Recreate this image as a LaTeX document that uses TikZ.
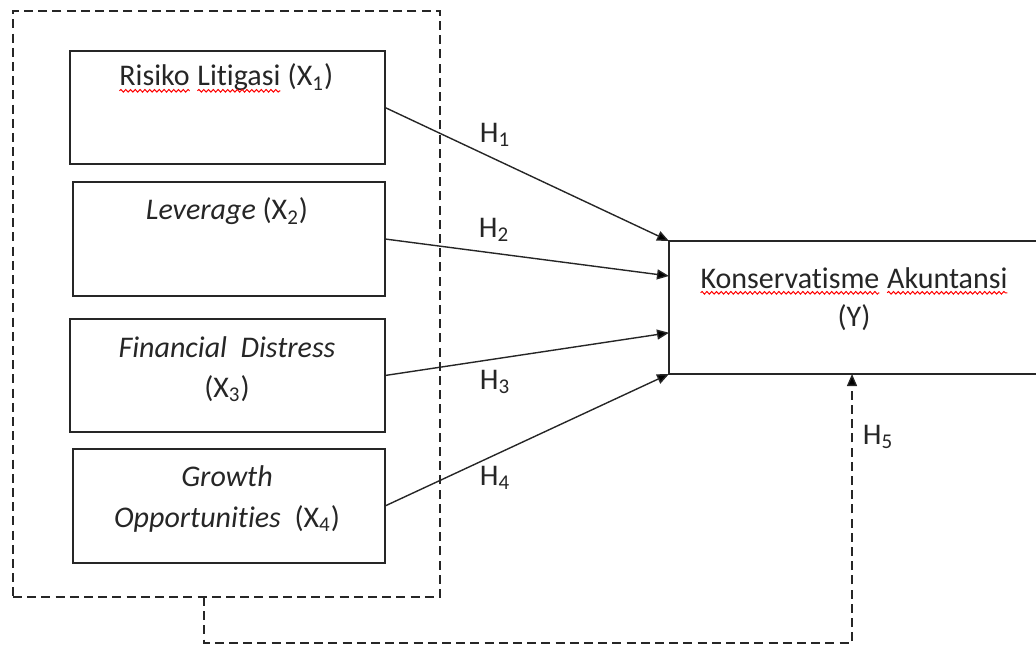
\documentclass[tikz,border=0pt]{standalone}
\usepackage{fontspec}
\setmainfont{Carlito}[Ligatures=NoCommon]
\usetikzlibrary{arrows.meta,fit,calc,decorations.pathmorphing}
\newcommand{\spellerr}[1]{\tikz[baseline=(sw.base)]{\node[inner sep=0pt,outer sep=0pt](sw){#1};\draw[red,line width=0.5pt,decorate,decoration={snake,amplitude=0.65pt,segment length=2.4pt}]([yshift=-2.4pt]sw.base west)--([yshift=-2.4pt]sw.base east);}}
\begin{document}
\begin{tikzpicture}[x=0.5pt,y=-0.5pt,
  box/.style={draw=black!85,line width=0.7pt,inner sep=0pt,outer sep=0pt},
  grpbox/.style={draw=black!85,line width=0.65pt,dash pattern=on 4.5pt off 2.6pt,inner sep=0pt,outer sep=0pt},
  txt/.style={font=\fontsize{15}{18}\selectfont,text=black!85,inner sep=0pt,anchor=base},
  lbl/.style={font=\fontsize{15}{18}\selectfont,text=black!85,inner sep=0pt},
  arr/.style={draw=black!85,line width=0.7pt,-{Triangle[length=6pt,width=5pt]}},
  darr/.style={draw=black!85,line width=0.65pt,dash pattern=on 4.5pt off 2.6pt,-{Triangle[length=6pt,width=5pt]}}]
\useasboundingbox (0,0) rectangle (1036,646);
% group
\node[grpbox,fit={(13,11) (440,597)}] (grp) {};
% boxes
\node[box,fit={(70,51) (385,164)}] (b1) {};
\node[box,fit={(73,182) (385,296)}] (b2) {};
\node[box,fit={(70,319) (385,432)}] (b3) {};
\node[box,fit={(73,449) (385,563)}] (b4) {};
\node[box,fit={(669,241) (1080,374)}] (yb) {};
% texts
\node[txt] (t1) at (226,86) {\spellerr{Risiko} \spellerr{Litigasi} (X\textsubscript{1})};
\node[txt] (t2) at (227,220) {\textit{Leverage} (X\textsubscript{2})};
\node[txt] (t3a) at (227,357) {\textit{Financial\ \ Distress}};
\node[txt] (t3b) at (227,397) {(X\textsubscript{3})};
\node[txt] (t4a) at (227,486) {\textit{Growth}};
\node[txt] (t4b) at (227,527) {\textit{Opportunities}\ \ (X\textsubscript{4})};
\node[txt] (ty1) at (854,288) {\spellerr{Konservatisme} \spellerr{Akuntansi}};
\node[txt] (ty2) at (854,326) {(Y)};
% arrows
\draw[arr] (b1.east) -- (yb.north west);
\draw[arr] (b2.east) -- ($(yb.north west)!0.263!(yb.south west)$);
\draw[arr] (b3.east) -- ($(yb.north west)!0.69!(yb.south west)$);
\draw[arr] (b4.east) -- (yb.south west);
% moderating path
\coordinate (d0) at (204,597);
\coordinate (d1) at (204,643);
\coordinate (h5t) at (852,374);
\draw[darr] (d0) -- (d1) -| (h5t);
% labels
\node[lbl] (h1) at (495,135) {H\textsubscript{1}};
\node[lbl] (h2) at (494,230) {H\textsubscript{2}};
\node[lbl] (h3) at (495,382) {H\textsubscript{3}};
\node[lbl] (h4) at (495,478) {H\textsubscript{4}};
\node[lbl] (h5) at (878,437) {H\textsubscript{5}};
\end{tikzpicture}
\end{document}
